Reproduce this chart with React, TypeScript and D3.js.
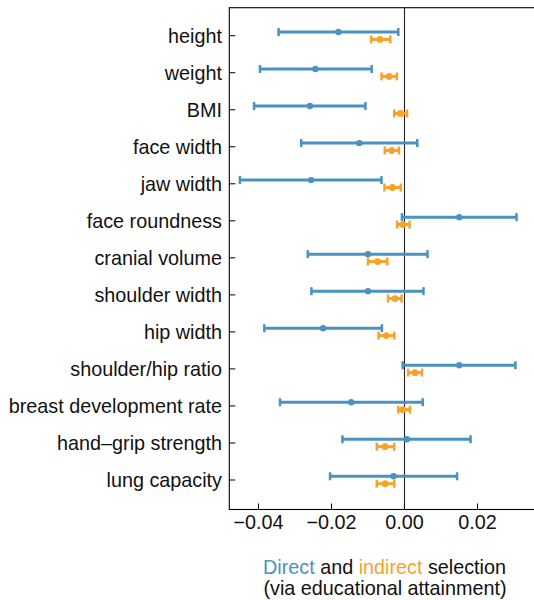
import * as d3 from 'd3';

const categories = [
  'height', 'weight', 'BMI', 'face width', 'jaw width', 'face roundness',
  'cranial volume', 'shoulder width', 'hip width', 'shoulder/hip ratio',
  'breast development rate', 'hand\u2013grip strength', 'lung capacity',
];

// direct selection (blue): estimate and 95% interval
const directMean = [-0.0181, -0.0244, -0.0259, -0.0124, -0.0256, 0.0150, -0.0100, -0.0100, -0.0223, 0.0150, -0.0146, 0.0007, -0.0030];
const directLo = [-0.0345, -0.0396, -0.0412, -0.0283, -0.0451, -0.0007, -0.0265, -0.0255, -0.0384, -0.0005, -0.0341, -0.0170, -0.0204];
const directHi = [-0.0017, -0.0090, -0.0107, 0.0035, -0.0063, 0.0307, 0.0063, 0.0052, -0.0062, 0.0304, 0.0050, 0.0181, 0.0144];

// indirect selection via educational attainment (orange)
const indirectMean = [-0.0067, -0.0042, -0.0011, -0.0035, -0.0033, -0.0004, -0.0074, -0.0026, -0.0050, 0.0029, -0.0005, -0.0053, -0.0053];
const indirectLo = [-0.0091, -0.0063, -0.0028, -0.0054, -0.0055, -0.0020, -0.0100, -0.0045, -0.0071, 0.0010, -0.0017, -0.0076, -0.0076];
const indirectHi = [-0.0039, -0.0021, 0.0007, -0.0015, -0.0010, 0.0014, -0.0047, -0.0008, -0.0028, 0.0048, 0.0015, -0.0028, -0.0028];

const xTicks = [-0.04, -0.02, 0.0, 0.02];

const W = 534;
const H = 600;
const BLUE = '#4a92c2';
const ORANGE = '#f9a22a';
const FONT = '"Liberation Sans", Arial, Helvetica, sans-serif';
const FS = 19.8;

export default function App() {
  const left = 229.3, top = 7.7, bottom = 509.5;
  const x = d3.scaleLinear().domain([-0.048, 0.036]).range([left, left + 0.084 * 3650]);
  const y = d3.scalePoint<string>().domain(categories).range([35.7, 480]);
  const right = x(0.036);
  const fmt = (v: number) => d3.format('.2f')(v).replace('-', '\u2212');

  const series = [
    { color: BLUE, mean: directMean, lo: directLo, hi: directHi, dy: -3.7, r: 3.2 },
    { color: ORANGE, mean: indirectMean, lo: indirectLo, hi: indirectHi, dy: 3.7, r: 3.4 },
  ];

  return (
    <svg width={W} height={H} style={{ position: 'absolute', left: 0, top: 0, background: '#fff' }}
      fontFamily={FONT}>
      {/* zero line */}
      <line x1={x(0)} x2={x(0)} y1={top} y2={bottom} stroke="#222" strokeWidth={1.1} />

      {series.map((s, si) => (
        <g key={si}>
          {categories.map((c, i) => {
            const cy = (y(c) as number) + s.dy;
            return (
              <g key={c}>
                <line x1={x(s.lo[i])} x2={x(s.hi[i])} y1={cy} y2={cy} stroke={s.color} strokeWidth={3} />
                <line x1={x(s.lo[i])} x2={x(s.lo[i])} y1={cy - 4} y2={cy + 4} stroke={s.color} strokeWidth={2.5} />
                <line x1={x(s.hi[i])} x2={x(s.hi[i])} y1={cy - 4} y2={cy + 4} stroke={s.color} strokeWidth={2.5} />
                <circle cx={x(s.mean[i])} cy={cy} r={s.r} fill={s.color} />
              </g>
            );
          })}
        </g>
      ))}

      {/* frame */}
      <rect x={left} y={top} width={right - left} height={bottom - top} fill="none" stroke="#000" strokeWidth={1.1} />

      {/* y ticks */}
      {categories.map(c => (
        <g key={c}>
          <line x1={left} x2={left + 6} y1={y(c)} y2={y(c)} stroke="#000" strokeWidth={1} />
          <text x={222} y={y(c)} dy="0.35em" textAnchor="end" fontSize={FS} fill="#111">{c}</text>
        </g>
      ))}

      {/* x ticks */}
      {xTicks.map(t => (
        <g key={t}>
          <line x1={x(t)} x2={x(t)} y1={bottom} y2={bottom - 6} stroke="#000" strokeWidth={1} />
          <text x={x(t)} y={528.5} textAnchor="middle" fontSize={FS} fill="#111">{fmt(t)}</text>
        </g>
      ))}

      {/* caption */}
      <text x={384.5} y={573.5} textAnchor="middle" fontSize={FS} fill="#111">
        <tspan fill={BLUE}>Direct</tspan> and <tspan fill={ORANGE}>indirect</tspan> selection
      </text>
      <text x={385} y={595} textAnchor="middle" fontSize={FS} fill="#111">(via educational attainment)</text>
    </svg>
  );
}
